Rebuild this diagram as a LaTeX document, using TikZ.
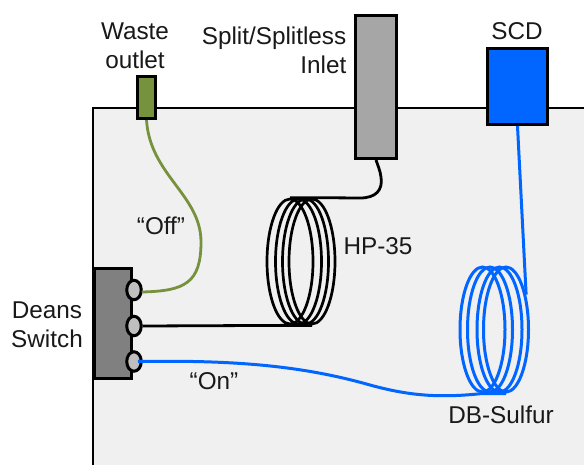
\documentclass[tikz,border=0pt]{standalone}
\usepackage{fontspec}
\setmainfont{Liberation Sans}
\usetikzlibrary{shapes.geometric}
\definecolor{olivebox}{HTML}{76923C}
\definecolor{bluebox}{HTML}{0066FF}
\definecolor{chamber}{HTML}{F0F0F0}
\tikzset{
 px/.style={x=1pt,y=-1pt},
 lab/.style={font=\fontsize{24.3}{29}\selectfont,text=black!90,inner sep=0pt,align=center},
 boxb/.style={draw=black,line width=3pt,rectangle,inner sep=0pt,anchor=north west},
 portn/.style={draw=black,line width=3pt,ellipse,fill=black!25,minimum width=14.5pt,minimum height=19.5pt,inner sep=0pt},
 coilb/.style={draw=black,line width=2.7pt,ellipse,minimum width=46pt,minimum height=125pt,inner sep=0pt},
 coilu/.style={draw=bluebox,line width=3pt,ellipse,minimum width=45pt,minimum height=125pt,inner sep=0pt},
 wireg/.style={draw=olivebox,line width=2.8pt},
 wirek/.style={draw=black,line width=2.8pt},
 wireu/.style={draw=bluebox,line width=3pt},
}
\begin{document}
\begin{tikzpicture}[px]
\useasboundingbox (0,0) rectangle (584,464);
\fill[white] (0,0) rectangle (584,464);
\filldraw[fill=chamber,draw=black,line width=2pt] (93,470) -- (93,108) -- (590,108) -- (590,470) -- cycle;
\clip (0,0) rectangle (584,464);
% boxes
\node[boxb,fill=olivebox,minimum width=18pt,minimum height=42pt] (waste) at (136,75) {};
\node[boxb,fill=black!35,minimum width=41pt,minimum height=143pt] (inlet) at (354,14) {};
\node[boxb,fill=bluebox,minimum width=60pt,minimum height=76pt] (scd) at (486,47) {};
\node[boxb,fill=black!50,minimum width=37pt,minimum height=110pt] (deans) at (93,267) {};
% coils
\foreach \n/\cx in {1/290,2/298.5,3/305.5,4/312}
  \node[coilb] (k\n) at (\cx,261.5) {};
\foreach \n/\cx in {1/482.5,2/490,3/499.5,4/506}
  \node[coilu] (u\n) at (\cx,329.5) {};
% ports
\node[portn] (p1) at (134,290) {};
\node[portn] (p2) at (134,326) {};
\node[portn] (p3) at (134,361.5) {};
% connectors
\draw[wireg] (p1.east) ++(-1,2) .. controls (185,291) and (201,283) .. (201,242)
  .. controls (201,195) and (150,175) .. (waste.south);
\draw[wirek] (p2.east) -- (k1.south) -- (k4.south);
\draw[wirek] (k1.north) -- (k4.north) -- (360,198)
  .. controls (376,198) and (383,190) .. (381,177) .. controls (380,170) and (378,166) .. (inlet.south);
\draw[wireu] (p3.center) ++(4,0) .. controls (230,360) and (300,365) .. (370,385)
  .. controls (410,396) and (440,398) .. (u1.south) -- (u4.south);
\draw[wireu] (scd.south) -- (u4.60);
% labels
\node[lab] (wastel) at (135,45.5) {Waste\\[0pt]outlet};
\node[lab,align=right,anchor=east] (inletl) at (346.5,50) {Split/Splitless\\[0pt]Inlet};
\node[lab] (scdl) at (517,31) {SCD};
\node[lab] (off) at (161,226) {“Off”};
\node[lab] (hp) at (378,246) {HP-35};
\node[lab] (ds) at (47,324.5) {Deans\\[0pt]Switch};
\node[lab] (on) at (214,381) {“On”};
\node[lab] (db) at (501,415) {DB-Sulfur};
\end{tikzpicture}
\end{document}
